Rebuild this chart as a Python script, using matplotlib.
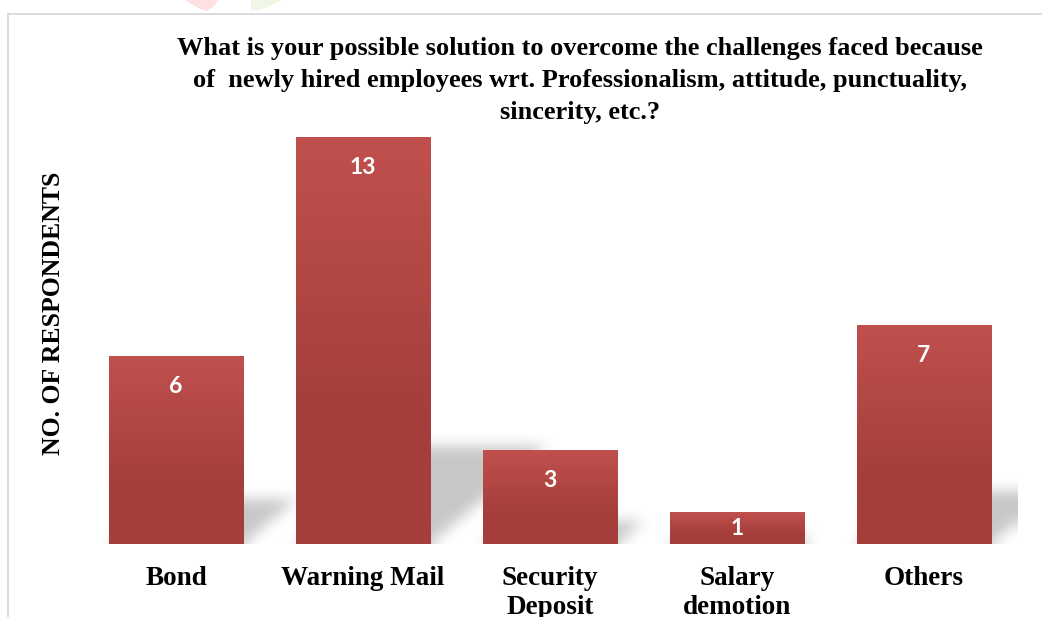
import numpy as np
import matplotlib
matplotlib.use("Agg")
import matplotlib.pyplot as plt
from matplotlib.lines import Line2D
from matplotlib.patches import Polygon
from matplotlib.colors import to_rgb

# data
categories = ["Bond", "Warning Mail", "Security\nDeposit", "Salary\ndemotion", "Others"]
counts = [6, 13, 3, 1, 7]

title_lines = [
    "What is your possible solution to overcome the challenges faced because",
    "of  newly hired employees wrt. Professionalism, attitude, punctuality,",
    "sincerity, etc.?",
]
ylabel = "NO. OF RESPONDENTS"

W, H = 1042, 617
fig = plt.figure(figsize=(W / 100, H / 100), dpi=100)
fig.patch.set_facecolor("white")

def fx(x):
    return x / W

def fy(y):
    return 1 - y / H

# plot area: y=0 at px 544, y=14 at px ~106; x from 82.5 to 1017
ax = fig.add_axes([fx(82.5), fy(544), fx(1017) - fx(82.5), (544 - 106) / H])
ax.set_xlim(-0.5, 4.5)
ax.set_ylim(0, 14)
ax.axis("off")

bar_w = 0.717
top_col = np.array(to_rgb("#C0504D"))
bot_col = np.array(to_rgb("#A43E3B"))

# --- perspective shadows (blurred parallelograms behind bars)
nx, ny = 935, 438
xs = np.linspace(-0.5, 4.5, nx)
ys = np.linspace(0, 14, ny)
X, Y = np.meshgrid(xs, ys)
k = 0.24          # shadow height / bar height
slope = 0.048 / k  # x shift per y unit of shadow
mask = np.zeros((ny, nx))
for i, v in enumerate(counts):
    x0, x1 = i - bar_w / 2, i + bar_w / 2
    inside = (Y <= k * v) & (X >= x0 + slope * Y) & (X <= x1 + slope * Y)
    mask[inside] = 1.0

def box_blur(a, r, axis):
    pad = [(0, 0), (0, 0)]
    pad[axis] = (r, r)
    b = np.pad(a, pad, mode="edge")
    c = np.cumsum(b, axis=axis)
    c = np.insert(c, 0, 0, axis=axis)
    n = a.shape[axis]
    if axis == 0:
        return (c[2 * r + 1:2 * r + 1 + n] - c[:n]) / (2 * r + 1)
    return (c[:, 2 * r + 1:2 * r + 1 + n] - c[:, :n]) / (2 * r + 1)

for _ in range(3):
    mask = box_blur(mask, 6, 0)
    mask = box_blur(mask, 6, 1)

shadow = np.zeros((ny, nx, 4))
shadow[..., 3] = mask * 0.22
ax.imshow(shadow, extent=(-0.5, 4.5, 0, 14), origin="lower",
          aspect="auto", zorder=1, interpolation="bilinear")

# --- gradient bars
for i, v in enumerate(counts):
    t = np.linspace(0, 1, 200)  # 0 bottom -> 1 top
    f = np.clip((1 - t) / 0.7, 0, 1)
    cols = top_col[None, :] + (bot_col - top_col)[None, :] * f[:, None]
    img = cols[:, None, :]
    ax.imshow(img, extent=(i - bar_w / 2, i + bar_w / 2, 0, v), origin="lower",
              aspect="auto", zorder=2, interpolation="bilinear")
    ly = max(v - 0.96, v / 2)
    ax.text(i, ly, str(v), ha="center", va="center", color="white",
            fontsize=16.5, fontweight="bold", family="Lato", zorder=3)

ax.set_xlim(-0.5, 4.5)
ax.set_ylim(0, 14)

# category labels
for i, c in enumerate(categories):
    ax.text(i, -(565 - 544 + 1) / (544 - 106), c, ha="center", va="top",
            fontsize=19.5, fontweight="bold", family="Liberation Serif",
            linespacing=1.22, transform=ax.get_xaxis_transform(), zorder=3)

# title
for j, line in enumerate(title_lines):
    fig.text(fx(580), fy(55 + 32 * j), line, ha="center", va="baseline",
             fontsize=19, fontweight="bold", family="Liberation Serif")

fig.text(fx(54), fy(313), ylabel, rotation=90, ha="center", va="center",
         fontsize=18.5, fontweight="bold", family="Liberation Serif")

# chart frame
fig.add_artist(Line2D([fx(8), fx(8)], [fy(14), 0], color="#D9D9D9", lw=1.3))
fig.add_artist(Line2D([fx(8), 1], [fy(14), fy(14)], color="#D9D9D9", lw=1.3))

# faint logo fragments at top
pink = [(185, 0), (218, 0), (214, 6), (207, 11), (198, 8), (190, 3)]
green = [(251, 0), (281, 0), (270, 6), (257, 11), (251, 11)]
for pts, col in [(pink, "#FFE0E0"), (green, "#EEF8E4")]:
    fig.add_artist(Polygon([(fx(a), fy(b)) for a, b in pts], closed=True,
                           facecolor=col, edgecolor="none",
                           transform=fig.transFigure))

fig.savefig("out.png", dpi=100)
